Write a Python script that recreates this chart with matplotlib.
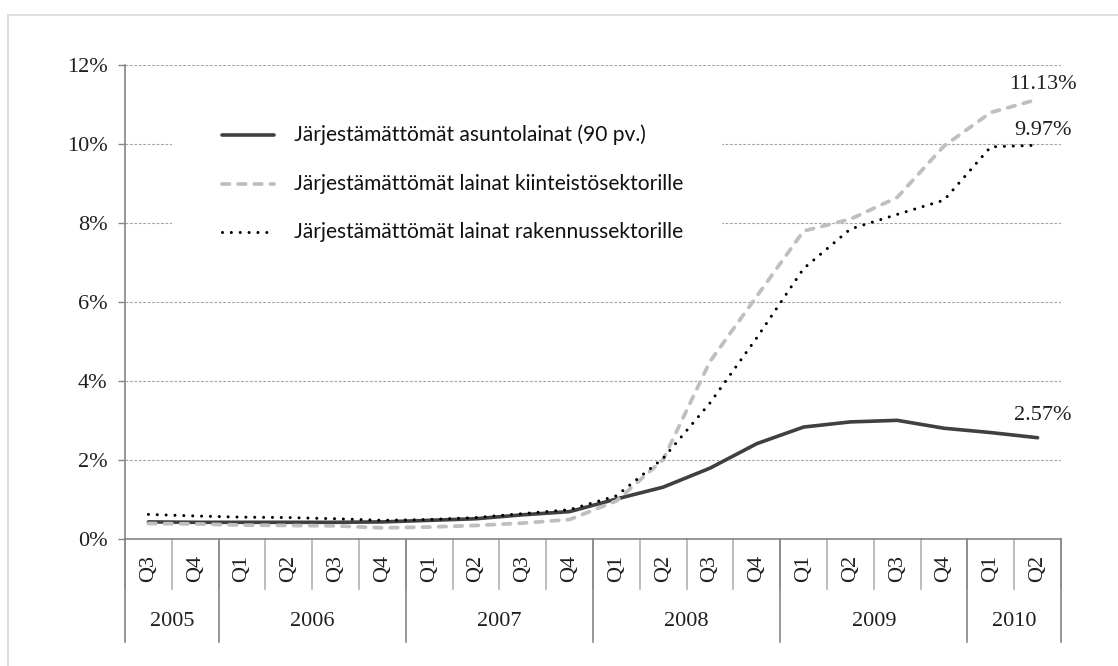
import matplotlib
matplotlib.use("Agg")
import matplotlib.pyplot as plt
from matplotlib.lines import Line2D
from matplotlib.patches import Rectangle
from matplotlib.transforms import Affine2D, blended_transform_factory

# ---------------- data ----------------
quarters = ['Q3', 'Q4',
            'Q1', 'Q2', 'Q3', 'Q4',
            'Q1', 'Q2', 'Q3', 'Q4',
            'Q1', 'Q2', 'Q3', 'Q4',
            'Q1', 'Q2', 'Q3', 'Q4',
            'Q1', 'Q2']
years = ['2005', '2006', '2007', '2008', '2009', '2010']
year_counts = [2, 4, 4, 4, 4, 2]

housing = [0.44, 0.43, 0.43, 0.43, 0.43, 0.44, 0.48, 0.52, 0.62, 0.70,
           1.02, 1.32, 1.80, 2.42, 2.84, 2.97, 3.01, 2.81, 2.70, 2.57]
real_estate = [0.40, 0.39, 0.36, 0.35, 0.34, 0.29, 0.31, 0.35, 0.41, 0.50,
               0.97, 2.02, 4.50, 6.15, 7.80, 8.10, 8.65, 9.95, 10.80, 11.13]
construction = [0.63, 0.59, 0.56, 0.55, 0.52, 0.48, 0.50, 0.55, 0.65, 0.75,
                1.10, 2.05, 3.45, 5.10, 6.85, 7.85, 8.22, 8.58, 9.93, 9.97]

labels = ['Järjestämättömät asuntolainat (90 pv.)',
          'Järjestämättömät lainat kiinteistösektorille',
          'Järjestämättömät lainat rakennussektorille']
end_labels = ['2.57%', '11.13%', '9.97%']
y_ticks = [0, 2, 4, 6, 8, 10, 12]

# ---------------- styles ----------------
W, H = 1118, 666
SERIF = 'Liberation Serif'
SANS = 'Lato'
TXT = '#1f1f1f'
AXC = '#868686'

styles = [
    dict(color='#404040', lw=2.6, ls='-', solid_capstyle='round'),
    dict(color='#bfbfbf', lw=2.7, ls=(0, (2.0, 2.3)), dash_capstyle='round'),
    dict(color='#000000', lw=2.2, ls=(0, (0.001, 2.9)), dash_capstyle='round'),
]

fig = plt.figure(figsize=(W / 100, H / 100), dpi=100)
fig.patch.set_facecolor('white')
px = Affine2D().scale(1 / W, -1 / H).translate(0, 1) + fig.transFigure

# outer frame (top and left visible)
fig.add_artist(Line2D([8, 8], [15, H + 5], transform=px, color='#d9d9d9', lw=1.2))
fig.add_artist(Line2D([8, W + 5], [15, 15], transform=px, color='#d9d9d9', lw=1.2))

x0, x1, ytop, ybot = 125, 1061, 65, 539.3
ax = fig.add_axes([x0 / W, (H - ybot) / H, (x1 - x0) / W, (ybot - ytop) / H])
ax.set_facecolor('none')

n = len(quarters)
xs = list(range(n))
for vals, st in zip([housing, real_estate, construction], styles):
    ax.plot(xs, vals, zorder=3, **st)

ax.set_xlim(-0.5, n - 0.5)
ax.set_ylim(0, 12)
ax.set_yticks(y_ticks)
ax.set_yticklabels([f'{v}%' for v in y_ticks], fontfamily=SERIF, fontsize=16, color=TXT)
ax.tick_params(axis='y', length=5, width=1, color=AXC, pad=7.5)
ax.set_xticks([])
for s in ['top', 'right']:
    ax.spines[s].set_visible(False)
for s in ['left', 'bottom']:
    ax.spines[s].set_color(AXC)
    ax.spines[s].set_linewidth(1.2)
ax.set_axisbelow(True)
ax.yaxis.grid(True, color='#a6a6a6', lw=0.8, ls=(0, (2.5, 1.5)))

# white area behind legend
ax.add_patch(Rectangle((172, 103), 722 - 172, 262 - 103, transform=px,
                       facecolor='white', edgecolor='none', zorder=1.5))

# category axis
axh = ybot - ytop
bt = blended_transform_factory(ax.transData, ax.transAxes)
short_y = -(589 - ybot) / axh
long_y = -(642 - ybot) / axh
q_y = -(568 - ybot) / axh
yr_y = -(622 - ybot) / axh
for i in range(n + 1):
    ax.plot([i - 0.5, i - 0.5], [0, short_y], transform=bt, color='#b0b0b0', lw=1.2, clip_on=False)
for i, q in enumerate(quarters):
    ax.text(i, q_y, q, transform=bt, rotation=90, ha='center', va='center',
            fontfamily=SERIF, fontsize=16, color=TXT)
start = 0
bounds = [-0.5]
for yr, c in zip(years, year_counts):
    ax.text(start + (c - 1) / 2, yr_y, yr, transform=bt, ha='center', va='center',
            fontfamily=SERIF, fontsize=16, color=TXT)
    start += c
    bounds.append(start - 0.5)
for b in bounds:
    ax.plot([b, b], [0, long_y], transform=bt, color=AXC, lw=1.2, clip_on=False)

# end labels
for vals, lab, dy in zip([housing, real_estate, construction], end_labels, [22, 15, 15]):
    ax.annotate(lab, (n - 1, vals[-1]), xytext=(4, dy * 0.72), textcoords='offset points',
                ha='center', va='center', fontfamily=SERIF, fontsize=16, color=TXT)

# legend (manual)
leg_rows = [135, 183.5, 232]
fs = 14
probe = fig.text(0, 0, labels[0], fontfamily=SANS, fontsize=fs)
fig.canvas.draw()
wpx = probe.get_window_extent().width
probe.remove()
fs = fs * 352 / wpx
for y, lab, st in zip(leg_rows, labels, styles):
    fig.add_artist(Line2D([222, 274], [y, y], transform=px, **st))
    fig.text(294, y, lab, transform=px, ha='left', va='center',
             fontfamily=SANS, fontsize=fs, color='#111111')

fig.savefig('out.png', dpi=100, facecolor='white')
